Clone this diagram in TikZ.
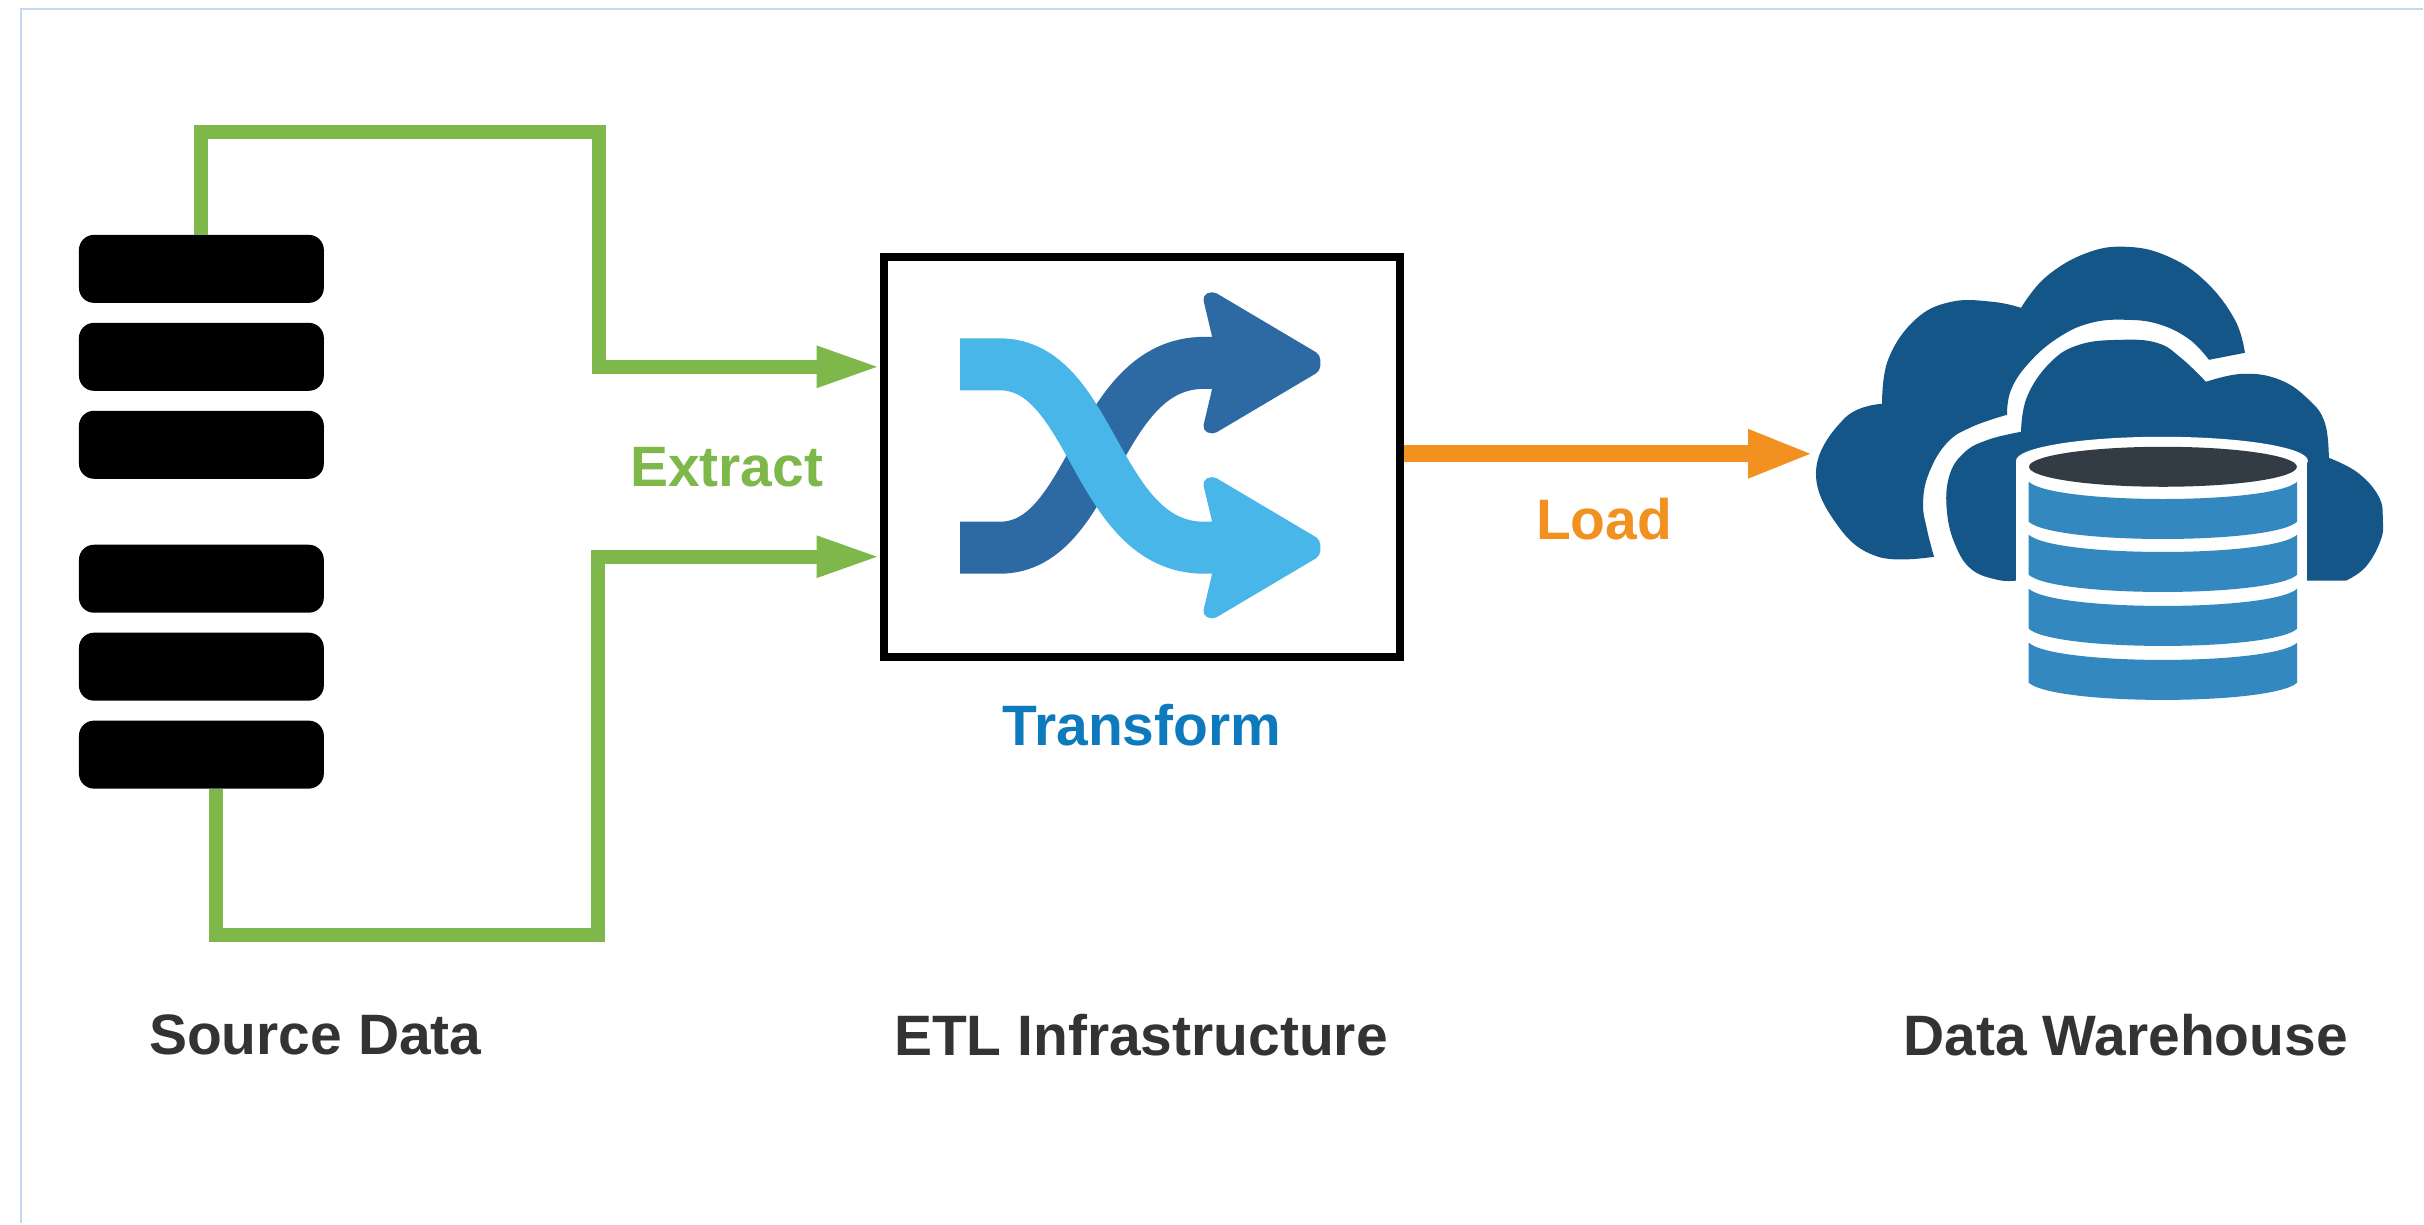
\documentclass[tikz,border=0pt]{standalone}
\usepackage{fontspec}
\setmainfont{Liberation Sans}
\usetikzlibrary{positioning,arrows.meta}
\definecolor{barclr}{RGB}{0,0,0}
\definecolor{frameclr}{RGB}{197,217,238}
\definecolor{extractclr}{RGB}{126,183,74}
\definecolor{loadclr}{RGB}{242,144,32}
\definecolor{transclr}{RGB}{14,122,190}
\definecolor{txtclr}{RGB}{51,51,51}
\definecolor{swapdark}{RGB}{45,105,163}
\definecolor{swaplight}{RGB}{72,182,232}
\definecolor{cloudclr}{RGB}{20,86,135}
\definecolor{dbclr}{RGB}{51,137,191}
\definecolor{dbtop}{RGB}{51,60,68}
\tikzset{ %
  ,x=0.5pt,y=-0.5pt
  ,every node/.style={font=\fontsize{28.5}{34}\selectfont\bfseries, inner sep=0, outer sep=0}
  ,srcbar/.style={fill=barclr, rounded corners=7.5pt, minimum width=122.5pt, minimum height=34pt, node distance=10pt}
  ,etlbox/.style={draw, line width=4pt, minimum width=258.5pt, minimum height=200pt, outer sep=2pt}
  ,extract/.style={draw=extractclr, line width=7pt, -{Triangle[length=32pt,width=19pt]}}
  ,load/.style={draw=loadclr, line width=8.5pt, -{Triangle[length=33pt,width=22pt]}}
  ,swap/.style={line width=26pt}
  ,swaptip/.style={rounded corners=2.5pt}
  ,caption/.style={text=txtclr, node distance=206.3pt}
  ,curve/.style={smooth, tension=0.7}
}

\begin{document}
\begin{tikzpicture}
  \fill[white] (0,0) rectangle (2424,1224);
  \draw[frameclr, line width=1.2pt] (21,1224) -- (21,9) -- (2424,9);

  \draw
  node[srcbar] (barA) at (201.5,269) {}
  node[srcbar,below=of barA] (barB) {}
  node[srcbar,below=of barB] (barC) {}
  node[srcbar,below=33pt of barC] (barD) {}
  node[srcbar,below=of barD] (barE) {}
  node[srcbar,below=of barE] (barF) {}
  node[etlbox] (etl) at (1142.5,457) {}
  node[text=transclr,below=22pt of etl] (transform) {Transform}
  node[caption,below=134pt of transform,xshift=-0.5pt] (etlcap) {ETL Infrastructure}
  node[caption,left=of etlcap] (srccap) {Source Data}
  node[caption,right=258pt of etlcap] (dwcap) {Data Warehouse}
  node[text=extractclr] (extractlbl) at (727,467) {Extract}
  node[text=loadclr] (loadlbl) at (1605,519) {Load};
  \coordinate (intop) at (881,367);
  \coordinate (inbot) at (881,557);
  \coordinate (dw) at (1815,454);

  % extract lines
  \draw[extract] (barA.north) |- (599.5,132) |- (intop);
  \draw[extract] ([xshift=7.5pt]barF.south) |- (598,935) |- (inbot);
  \draw[load] (etl.east |- dw) -- (dw);

  % shuffle icon
  \draw[swap,swapdark] (960.5,548) -- (1000,548) .. controls (1095,548) and (1095,363) .. (1205,363) -- (1235,363);
  \fill[swapdark,swaptip] (1321,355) -- (1213,291) -- (1203,296) -- (1213,338) -- (1213,388) -- (1203,430) -- (1213,435) -- (1321,371) -- cycle;
  \draw[swap,swaplight] (960.5,364.5) -- (1000,364.5) .. controls (1095,364.5) and (1095,548) .. (1205,548) -- (1235,548);
  \fill[swaplight,swaptip] (1321,540) -- (1213,476) -- (1203,481) -- (1213,523) -- (1213,573) -- (1203,615) -- (1213,620) -- (1321,556) -- cycle;

  % clouds
  \fill[cloudclr] plot[curve] coordinates {(1935,557) (1879,557) (1838,525) (1817,470) (1846,418) (1883,404)}
    -- plot[curve] coordinates {(1883,404) (1889,360) (1916,320) (1952,302) (1994,302) (2022,308)}
    -- plot[curve] coordinates {(2022,308) (2047,277) (2088,253) (2129,247) (2170,257) (2207,282) (2236,320) (2246,353)}
    -- (2210,360)
    -- plot[curve] coordinates {(2210,360) (2191,340) (2162,325) (2129,320) (2092,323) (2059,338) (2030,363) (2012,390) (2008,415)}
    -- plot[curve] coordinates {(2008,415) (1973,427) (1948,443) (1930,473) (1924,503) (1928,530) (1935,557)} -- cycle;
  \fill[cloudclr] plot[curve] coordinates {(2016,581) (1998,580) (1973,570) (1957,547) (1948,513) (1950,477) (1965,453) (1989,440) (2022,432)}
    -- plot[curve] coordinates {(2022,432) (2028,397) (2051,363) (2080,345) (2121,340) (2158,343) (2182,358) (2207,382)}
    -- plot[curve] coordinates {(2207,382) (2244,374) (2281,380) (2310,400) (2326,423) (2330,458)}
    -- plot[curve] coordinates {(2330,458) (2359,473) (2380,497) (2384,520) (2382,540) (2367,567) (2347,581)} -- (2016,581) -- cycle;

  % database
  \fill[white] (2163,461) ellipse [x radius=146, y radius=24];
  \fill[white] (2017,461) rectangle (2308.5,585);
  \fill[dbtop] (2164,467) ellipse [x radius=134, y radius=20];
  \foreach \yb in {482,535,589,643}
    \fill[dbclr] (2029.7,\yb) .. controls (2055,\yb+23) and (2273,\yb+23) .. (2298.3,\yb)
      -- (2298.3,\yb+40) .. controls (2273,\yb+63) and (2055,\yb+63) .. (2029.7,\yb+40) -- cycle;
\end{tikzpicture}
\end{document}
